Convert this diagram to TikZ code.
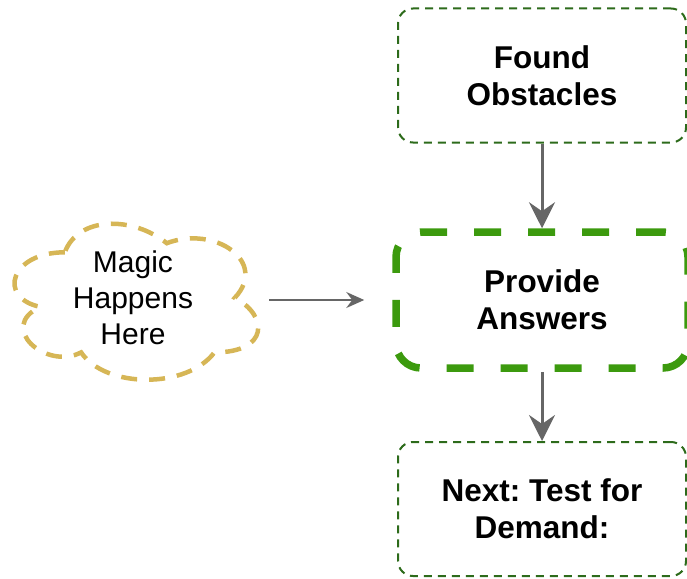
\documentclass[tikz,border=0pt]{standalone}
\usepackage{fontspec}
\setmainfont{Liberation Sans}
\usepackage{tikz}
\usetikzlibrary{arrows.meta, positioning, calc}
\definecolor{boxgreen}{HTML}{2D6B1B}
\definecolor{boldgreen}{HTML}{3C9A0E}
\definecolor{cloudgold}{HTML}{D6B656}
\definecolor{arrowgray}{HTML}{666666}
\frenchspacing

\begin{document}
\begin{tikzpicture}[x=1pt, y=-1pt,
    txt/.style={font=\fontsize{30}{36}\selectfont, align=center, inner sep=0pt},
    stepbox/.style={txt, font=\fontsize{31.5}{37}\selectfont\bfseries, draw=boxgreen, line width=2pt,
        dash pattern=on 8pt off 6pt, rounded corners=15pt, minimum width=288pt, minimum height=134pt},
    mainbox/.style={stepbox, draw=boldgreen, line width=7.5pt, dash pattern=on 27pt off 27pt,
        rounded corners=25pt, minimum width=292pt, minimum height=136pt},
    flow/.style={draw=arrowgray, line width=3pt, -{Stealth[length=26pt, width=26pt, inset=9pt]}},
    thinflow/.style={draw=arrowgray, line width=2pt, -{Stealth[length=18pt, width=16pt, inset=6pt]}}]
    \useasboundingbox (0,0) rectangle (687,578);

    \node[stepbox] (found) at (542,75.5) {Found\\Obstacles};
    \node[mainbox] (answers) at (542,300) {Provide\\Answers};
    \node[stepbox] (next) at (542,509) {Next: Test for\\Demand:};
    \node[txt, minimum width=272pt, minimum height=182pt] (magic) at (133,298) {Magic\\Happens\\Here};

    \begin{scope}[shift={(magic.north west)}, x=272pt, y=-182pt]
        \draw[cloudgold, line width=4.5pt, dash pattern=on 16pt off 12pt]
            (0.25,0.25) .. controls (0.05,0.25) and (0,0.5) .. (0.16,0.55)
            .. controls (0,0.66) and (0.18,0.9) .. (0.31,0.8)
            .. controls (0.4,1) and (0.7,1) .. (0.8,0.8)
            .. controls (1,0.8) and (1,0.6) .. (0.875,0.5)
            .. controls (1,0.3) and (0.8,0.1) .. (0.625,0.2)
            .. controls (0.5,0.05) and (0.3,0.05) .. (0.25,0.25) -- cycle;
    \end{scope}

    \draw[flow] (found) -- (answers);
    \draw[flow] (answers) -- (next);
    \draw[thinflow, shorten >=28pt] (magic.east |- answers.west) -- (answers.west);
\end{tikzpicture}
\end{document}
